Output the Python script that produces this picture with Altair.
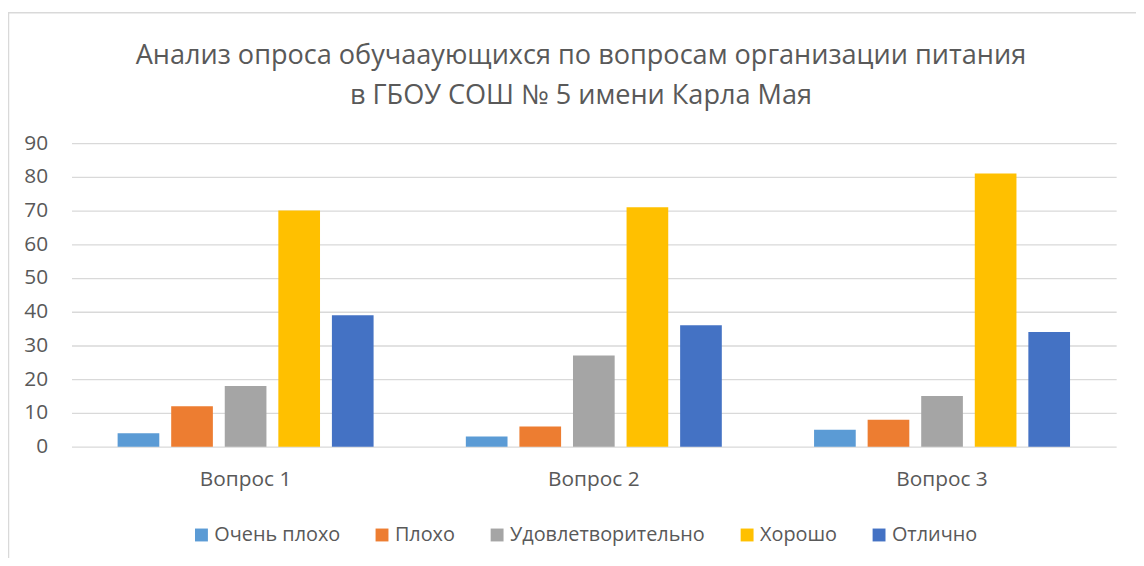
import altair as alt
import pandas as pd

questions = ["Вопрос 1", "Вопрос 2", "Вопрос 3"]
categories = ["Очень плохо", "Плохо", "Удовлетворительно", "Хорошо", "Отлично"]
colors = ["#5B9BD5", "#ED7D31", "#A5A5A5", "#FFC000", "#4472C4"]

very_bad = [4, 3, 5]
bad = [12, 6, 8]
satisfactory = [18, 27, 15]
good = [70, 71, 81]
excellent = [39, 36, 34]

title_lines = [
    "Анализ опроса обучааующихся по вопросам организации питания",
    "в ГБОУ СОШ № 5 имени Карла Мая",
]

series = [very_bad, bad, satisfactory, good, excellent]
rows = []
for cat, vals in zip(categories, series):
    for q, v in zip(questions, vals):
        rows.append({"question": q, "category": cat, "value": v})
df = pd.DataFrame(rows)

FONT = "Open Sans"
TXT = "#595959"

bars = alt.Chart(df).mark_bar().encode(
    x=alt.X(
        "question:N",
        sort=questions,
        scale=alt.Scale(paddingInner=0, paddingOuter=0),
        axis=alt.Axis(
            title=None, labelAngle=0, domain=False, ticks=False, grid=False,
            labelFontSize=21, labelColor=TXT, labelFont=FONT, labelPadding=22,
        ),
    ),
    xOffset=alt.XOffset(
        "category:N", sort=categories,
        scale=alt.Scale(paddingInner=0.222, paddingOuter=0.861),
    ),
    y=alt.Y(
        "value:Q",
        scale=alt.Scale(domain=[0, 90]),
        axis=alt.Axis(
            title=None, values=list(range(0, 91, 10)), domain=False, ticks=False,
            gridColor="#D9D9D9", gridWidth=1.3, labelFontSize=21, labelColor=TXT,
            labelFont=FONT, labelPadding=24,
        ),
    ),
    color=alt.Color(
        "category:N",
        sort=categories,
        scale=alt.Scale(domain=categories, range=colors),
        legend=alt.Legend(
            title=None, orient="none", legendX=121, legendY=385,
            direction="horizontal", symbolType="square", symbolSize=169,
            symbolStrokeWidth=0, labelFontSize=20, labelColor=TXT, labelFont=FONT,
            labelOffset=3, columnPadding=32, labelLimit=400,
        ),
    ),
)

frame = alt.Chart(pd.DataFrame({"a": [0]})).mark_rect(
    fill=None, stroke="#D9D9D9", strokeWidth=1.5
).encode(
    x=alt.value(-63.5), x2=alt.value(1200), y=alt.value(-131.5), y2=alt.value(600)
)

chart = alt.layer(frame, bars).properties(
    width=1053,
    height=306,
    title=alt.TitleParams(
        text=title_lines, fontSize=27.3, font=FONT, fontWeight="normal", color=TXT,
        anchor="middle", frame="group", dx=-13, offset=-98, lineHeight=40,
    ),
    autosize=alt.AutoSizeParams(type="none"),
    padding={"left": 64, "top": 134, "right": 20, "bottom": 110},
    background="white",
).configure_view(stroke=None)

chart.save("out.html", embed_options={"renderer": "svg", "actions": False})
